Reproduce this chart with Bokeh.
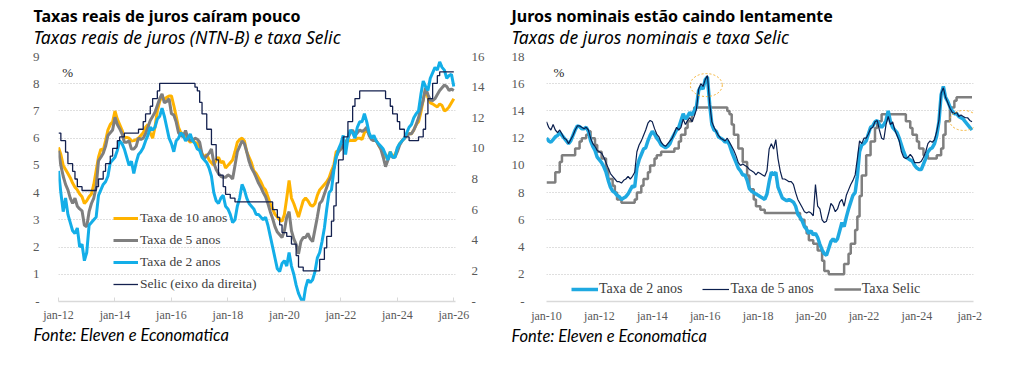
import pandas as pd
from bokeh.plotting import figure
from bokeh.models import Range1d, LinearAxis, FixedTicker, Label, Legend, LegendItem, Title
from bokeh.layouts import row
from bokeh.embed import file_html
from bokeh.resources import INLINE

# ---------------- DATA ----------------
# Left chart: real rates (NTN-B), monthly from Jan 2012 to Jan 2026, %
inicio_reais = "2012-01"
taxa_10_anos = [
    5.66, 5.4, 5.0, 4.85, 4.7, 4.55, 4.35, 4.2, 4.1, 3.95, 3.85, 3.6,
    3.7, 3.85, 3.95, 4.3, 4.8, 5.3, 5.6, 5.55, 5.9, 6.3, 6.5, 6.6,
    7.0, 6.7, 6.5, 6.3, 6.0, 6.03, 6.0, 5.9, 5.91, 5.95, 6.0, 6.1,
    6.2, 6.4, 6.5, 6.2, 6.0, 6.4, 7.0, 7.35, 7.55, 7.4, 7.5, 7.55,
    7.55, 7.2, 6.8, 6.4, 6.2, 6.16, 6.1, 5.95, 5.85, 5.91, 5.85, 5.8,
    5.6, 5.42, 5.3, 5.4, 5.2, 5.1, 5.0, 5.2, 5.3, 5.1, 5.15, 4.9,
    5.0, 5.1, 5.2, 5.5, 5.85, 5.95, 6.0, 5.9, 5.5, 5.3, 5.1, 4.8,
    4.7, 4.55, 4.4, 4.2, 4.1, 3.85, 3.6, 3.4, 3.2, 3.1, 3.0, 2.95,
    3.2, 3.8, 4.45, 3.8, 3.6, 3.35, 3.1, 3.4, 3.7, 3.8, 3.7, 3.55,
    3.5, 3.6, 3.9, 4.1, 4.2, 4.3, 4.4, 4.55, 4.8, 5.0, 5.5, 5.55,
    5.6, 5.7, 5.8, 5.9, 5.91, 5.91, 5.91, 6.0, 6.0, 5.95, 6.2, 6.3,
    6.15, 6.0, 5.91, 5.91, 5.75, 5.6, 5.45, 5.3, 5.3, 5.5, 5.3, 5.4,
    5.6, 5.8, 5.9, 6.0, 6.1, 6.16, 6.16, 6.3, 6.5, 6.6, 6.95, 7.4,
    7.8, 7.5, 7.3, 7.26, 7.2, 7.15, 7.26, 7.2, 7.0, 7.05, 7.15, 7.3,
    7.45,
]
taxa_5_anos = [
    5.54, 5.0, 4.6, 4.3, 4.1, 3.8, 3.6, 3.8, 3.5, 3.4, 3.33, 2.8,
    2.75, 3.3, 3.6, 3.8, 4.2, 5.17, 5.3, 5.45, 5.7, 6.1, 6.2, 6.3,
    6.77, 6.5, 6.35, 6.16, 5.85, 5.85, 5.9, 5.6, 5.6, 5.7, 6.0, 5.95,
    6.0, 6.16, 6.4, 6.65, 6.8, 6.95, 7.2, 7.45, 7.63, 7.3, 7.35, 7.45,
    6.9, 6.85, 6.6, 6.2, 6.1, 6.05, 6.28, 6.0, 5.91, 5.91, 6.0, 5.96,
    5.85, 5.42, 5.25, 5.35, 5.45, 5.6, 5.1, 4.85, 4.7, 4.6, 4.56, 4.56,
    4.65, 4.6, 4.5, 5.0, 5.5, 5.7, 5.9, 5.8, 5.5, 5.15, 4.9, 4.75,
    4.56, 4.35, 4.2, 4.0, 3.85, 3.6, 3.3, 3.05, 2.75, 2.55, 2.45, 2.35,
    2.6, 3.1, 3.3, 2.6, 2.3, 2.1, 1.75, 2.2, 2.35, 2.35, 2.5, 2.3,
    2.2, 2.65, 3.1, 3.6, 3.7, 3.95, 4.2, 4.44, 4.6, 4.9, 5.3, 5.5,
    5.6, 5.75, 5.85, 6.0, 6.2, 6.3, 6.1, 6.2, 6.3, 6.25, 6.3, 6.4,
    6.1, 5.95, 5.91, 5.91, 5.75, 5.6, 5.3, 4.95, 5.2, 5.4, 5.3, 5.3,
    5.5, 5.75, 5.9, 6.0, 6.1, 6.16, 6.16, 6.3, 6.5, 6.75, 7.1, 7.4,
    7.85, 7.6, 7.4, 7.38, 7.45, 7.6, 7.75, 7.85, 7.95, 7.9, 7.75, 7.8,
    7.75,
]
taxa_2_anos = [
    4.8, 4.0, 3.3, 3.8, 3.2, 2.9, 2.6, 2.5, 2.7, 2.0, 2.1, 1.5,
    1.8, 2.8, 2.9, 3.0, 3.1, 3.9, 4.1, 4.3, 4.4, 4.6, 5.1, 5.2,
    5.3, 5.55, 5.9, 5.8, 5.6, 5.3, 5.0, 5.15, 4.7, 5.1, 5.4, 5.5,
    5.65, 5.9, 6.1, 6.4, 6.3, 6.4, 6.7, 6.8, 7.1, 6.8, 6.4, 6.0,
    5.8, 5.5, 5.9, 6.0, 6.2, 6.1, 5.9, 6.0, 6.15, 5.9, 5.8, 5.6,
    5.55, 5.3, 5.2, 5.1, 4.9, 4.6, 4.0, 3.7, 3.6, 3.8, 3.9, 3.5,
    3.4, 3.2, 2.9, 3.0, 3.5, 3.8, 4.3, 4.1, 3.8, 3.6, 3.5, 3.4,
    3.2, 3.2, 3.1, 3.0, 3.1, 2.8, 2.4, 2.0, 1.6, 1.2, 1.1, 1.4,
    1.5, 1.3, 1.8, 1.3, 1.0, 0.6, 0.3, 0.1, -0.05, 0.5, 0.8, 0.7,
    0.8, 1.1, 1.6, 1.8, 2.2, 2.7, 3.4, 4.0, 4.1, 4.8, 5.3, 5.6,
    5.8, 6.1, 5.4, 6.0, 6.3, 6.2, 6.0, 6.4, 6.6, 6.6, 6.9, 6.6,
    6.2, 6.0, 6.1, 5.9, 5.8, 5.7, 5.6, 5.4, 5.2, 5.5, 5.3, 5.3,
    5.65, 5.8, 5.9, 6.0, 6.2, 6.4, 6.5, 6.75, 6.9, 7.0, 7.6, 8.1,
    7.9, 7.75, 8.2, 8.4, 8.6, 8.5, 8.8, 8.6, 8.5, 8.2, 8.3, 8.35,
    7.9,
]

# Selic target, monthly from Jan 2010 to Feb 2026, %
inicio_selic = "2010-01"
selic = [
    8.75, 8.75, 8.75, 8.75, 9.5, 9.5, 10.25, 10.75, 10.75, 10.75, 10.75, 10.75,
    10.75, 11.25, 11.25, 11.75, 12.0, 12.0, 12.25, 12.5, 12.0, 12.0, 11.5, 11.0,
    11.0, 10.5, 10.5, 9.75, 9.0, 9.0, 8.5, 8.0, 7.5, 7.5, 7.25, 7.25,
    7.25, 7.25, 7.25, 7.25, 7.5, 8.0, 8.0, 8.5, 9.0, 9.0, 9.5, 10.0,
    10.0, 10.5, 10.75, 10.75, 11.0, 11.0, 11.0, 11.0, 11.0, 11.0, 11.25, 11.25,
    11.75, 12.25, 12.25, 12.75, 13.25, 13.25, 13.75, 14.25, 14.25, 14.25, 14.25, 14.25,
    14.25, 14.25, 14.25, 14.25, 14.25, 14.25, 14.25, 14.25, 14.25, 14.25, 14.0, 13.75,
    13.0, 12.25, 12.25, 11.25, 11.25, 10.25, 10.25, 9.25, 8.25, 8.25, 7.5, 7.0,
    7.0, 6.75, 6.75, 6.5, 6.5, 6.5, 6.5, 6.5, 6.5, 6.5, 6.5, 6.5,
    6.5, 6.5, 6.5, 6.5, 6.5, 6.5, 6.5, 6.0, 6.0, 5.5, 5.0, 4.5,
    4.5, 4.25, 4.25, 3.75, 3.75, 3.0, 2.25, 2.25, 2.0, 2.0, 2.0, 2.0,
    2.0, 2.0, 2.0, 2.75, 2.75, 3.5, 4.25, 4.25, 5.25, 6.25, 7.75, 9.25,
    9.25, 10.75, 10.75, 11.75, 11.75, 12.75, 13.25, 13.25, 13.75, 13.75, 13.75, 13.75,
    13.75, 13.75, 13.75, 13.75, 13.75, 13.75, 13.75, 13.25, 13.25, 12.75, 12.25, 12.25,
    11.75, 11.25, 11.25, 10.75, 10.75, 10.5, 10.5, 10.5, 10.5, 10.75, 10.75, 11.25,
    12.25, 13.25, 13.25, 14.25, 14.25, 14.75, 15.0, 15.0, 15.0, 15.0, 15.0, 15.0,
    15.0, 15.0,
]

# Right chart: nominal rates, monthly from Jan 2010 to Feb 2026, %
inicio_nominais = "2010-01"
nominal_2_anos = [
    12.0, 11.8, 11.7, 11.9, 12.1, 12.2, 12.4, 12.2, 12.0, 11.8, 11.6, 11.8,
    12.2, 12.6, 12.9, 12.85, 12.7, 12.7, 12.8, 12.5, 11.8, 11.4, 11.1, 10.6,
    10.4, 10.2, 9.9, 9.5, 8.9, 8.4, 8.1, 8.0, 7.8, 7.7, 7.5, 7.6,
    7.7, 7.9, 8.2, 8.5, 8.4, 9.8, 10.4, 10.8, 11.2, 11.3, 11.8, 12.2,
    12.5, 12.3, 12.0, 11.8, 11.5, 11.4, 11.3, 11.4, 11.6, 12.0, 12.3, 12.6,
    12.8, 13.3, 13.8, 13.4, 13.6, 13.9, 13.7, 14.0, 14.3, 15.5, 15.8, 15.6,
    16.3, 16.5, 14.5, 13.0, 12.6, 12.5, 12.1, 12.0, 11.9, 11.7, 11.8, 11.5,
    11.0, 10.6, 10.2, 9.8, 9.6, 9.3, 9.3, 8.9, 8.3, 8.1, 8.0, 7.9,
    7.8, 7.7, 7.6, 7.5, 7.9, 8.8, 9.5, 9.3, 9.5, 8.4, 8.0, 7.6,
    7.5, 7.4, 7.5, 7.4, 7.3, 7.0, 6.4, 6.2, 5.9, 5.5, 5.3, 5.0,
    5.2, 4.9, 5.0, 4.7, 4.2, 3.8, 3.5, 3.4, 3.9, 4.4, 4.6, 4.4,
    4.6, 5.2, 5.8, 5.5, 6.2, 6.8, 7.3, 7.8, 8.0, 9.2, 11.0, 11.5,
    11.6, 11.8, 12.3, 12.8, 12.9, 13.2, 13.3, 13.0, 12.8, 13.0, 13.3, 14.0,
    13.2, 12.8, 12.6, 12.4, 12.0, 11.5, 11.0, 10.6, 10.5, 10.4, 10.3, 10.0,
    9.8, 9.7, 9.7, 10.1, 10.5, 11.0, 11.2, 11.3, 11.6, 12.2, 13.2, 15.2,
    15.8, 15.0, 14.7, 14.3, 14.0, 13.8, 13.8, 13.6, 13.5, 13.4, 13.2, 13.0,
    12.8, 12.6,
]
nominal_5_anos = [
    13.2, 12.8, 12.6, 13.0, 12.6, 12.4, 12.6, 12.3, 12.0, 11.9, 11.6, 11.9,
    12.2, 12.6, 12.9, 12.9, 12.8, 12.7, 12.8, 12.6, 12.0, 11.6, 11.4, 11.1,
    11.0, 10.9, 10.6, 10.2, 9.8, 9.4, 9.2, 9.0, 8.8, 8.8, 8.7, 8.9,
    9.0, 9.2, 9.0, 9.2, 9.5, 11.0, 11.5, 11.8, 12.2, 12.6, 13.1, 13.3,
    13.2, 12.7, 12.3, 12.1, 11.7, 11.5, 11.4, 11.6, 11.8, 12.0, 12.4, 12.8,
    12.6, 12.8, 13.4, 13.0, 13.3, 13.5, 13.2, 13.6, 14.1, 15.6, 16.0, 15.8,
    16.3, 16.6, 14.6, 13.2, 12.8, 12.5, 12.2, 12.0, 11.9, 11.8, 12.0, 11.7,
    11.4, 11.1, 10.7, 10.2, 10.0, 10.1, 10.0, 9.9, 9.7, 9.6, 9.5, 9.3,
    9.5, 9.4, 9.3, 9.2, 9.6, 11.2, 11.6, 11.2, 11.9, 10.5, 9.6, 9.0,
    9.0, 8.9, 8.8, 8.8, 8.6, 8.0, 7.5, 7.2, 6.9, 6.6, 6.5, 6.6,
    6.5, 6.3, 8.6, 7.0, 6.8, 6.0, 5.8, 5.9, 6.5, 7.2, 7.0, 6.6,
    6.8, 7.3, 7.5, 7.0, 7.8, 8.2, 8.6, 8.9, 9.3, 10.5, 11.8, 11.6,
    12.0, 12.0, 12.3, 12.7, 12.8, 13.2, 13.3, 12.6, 12.0, 11.9, 13.0, 13.6,
    13.0, 13.2, 12.6, 12.2, 11.8, 11.0, 10.6, 10.5, 10.6, 10.8, 10.6, 10.2,
    10.2, 10.2, 10.3, 10.6, 11.0, 11.6, 11.8, 11.7, 11.9, 12.5, 13.3, 15.3,
    15.7, 15.0, 14.6, 14.2, 13.9, 13.8, 13.9, 13.6, 13.7, 13.6, 13.5, 13.5,
    13.3, 13.2,
]

# Highlighted zones (dotted ellipses) on the right chart
destaque_anos = [2016.04, 2025.77]
destaque_valores = [15.9, 13.3]

# Tick labels
anos_ticks_esq = [2012, 2014, 2016, 2018, 2020, 2022, 2024, 2026]
rotulos_esq = ["jan-12", "jan-14", "jan-16", "jan-18", "jan-20", "jan-22", "jan-24", "jan-26"]
anos_ticks_dir = [2010, 2012, 2014, 2016, 2018, 2020, 2022, 2024, 2026]
rotulos_dir = ["jan-10", "jan-12", "jan-14", "jan-16", "jan-18", "jan-20", "jan-22", "jan-24", "jan-2"]


def anos_decimais(inicio, n):
    d = pd.date_range(inicio, periods=n, freq="MS")
    return list(d.year + (d.month - 1) / 12.0)


x_reais = anos_decimais(inicio_reais, len(taxa_2_anos))
x_selic = anos_decimais(inicio_selic, len(selic))
x_nom = anos_decimais(inicio_nominais, len(nominal_2_anos))

x_selic_esq = [x for x in x_selic if 2012 <= x <= 2026.01]
selic_esq = [s for x, s in zip(x_selic, selic) if 2012 <= x <= 2026.01]

SERIF = "Liberation Serif"
SANS = "Noto Sans"
TICK_COLOR = "#595959"
GRID_COLOR = "#bfbfbf"
ALTURA = 362
TOPO = 56
BASE = 61


def estilo_comum(p):
    p.outline_line_color = None
    p.xgrid.visible = False
    p.ygrid.grid_line_color = GRID_COLOR
    p.ygrid.grid_line_dash = "1 2"
    p.ygrid.grid_line_width = 1
    for ax in p.yaxis:
        ax.axis_line_color = None
        ax.major_tick_line_color = None
        ax.minor_tick_line_color = None
        ax.major_label_text_font = SERIF
        ax.major_label_text_font_size = "13px"
        ax.major_label_text_color = TICK_COLOR
    xa = p.xaxis[0]
    xa.axis_line_color = "#d9d9d9"
    xa.axis_line_width = 1.5
    xa.minor_tick_line_color = None
    xa.major_label_text_font = SERIF
    xa.major_label_text_font_size = "12px"
    xa.major_label_text_color = TICK_COLOR


def titulos(p, dx, titulo, subtitulo, fonte):
    # first added "above" is nearest to the frame
    p.add_layout(Title(text=subtitulo, text_font=SANS, text_font_size="17.5px",
                       text_font_style="italic", text_color="#000000",
                       align="left", offset=dx, standoff=15), "above")
    p.add_layout(Title(text=titulo, text_font=SANS, text_font_size="16px",
                       text_font_style="bold", text_color="#000000",
                       align="left", offset=dx, standoff=-22), "above")
    p.add_layout(Title(text=fonte, text_font="Lato", text_font_size="16.5px",
                       text_font_style="italic", text_color="#000000",
                       align="left", offset=dx, standoff=-3), "below")


def simbolo_pct(p, x, y):
    p.add_layout(Label(x=x, y=y, x_units="screen", y_units="screen", text="%",
                       text_font=SERIF, text_font_size="13px", text_color="#262626",
                       text_baseline="alphabetic"))


# ---------------- LEFT CHART ----------------
pl = figure(width=504, height=ALTURA, x_range=Range1d(2012, 2026.06), y_range=Range1d(0, 9),
            output_backend="svg", toolbar_location=None, title=None,
            min_border_left=58, min_border_right=49, min_border_top=TOPO,
            min_border_bottom=BASE)
pl.extra_y_ranges = {"selic": Range1d(0, 16)}

r10 = pl.line(x_reais, taxa_10_anos, line_color="#ffb300", line_width=3)
r5 = pl.line(x_reais, taxa_5_anos, line_color="#7f7f7f", line_width=3)
r2 = pl.line(x_reais, taxa_2_anos, line_color="#13aee8", line_width=3)
rs = pl.step(x_selic_esq, selic_esq, mode="after", y_range_name="selic",
             line_color="#14214f", line_width=1.3)

ax_dir = LinearAxis(y_range_name="selic")
pl.add_layout(ax_dir, "right")

pl.xaxis.ticker = FixedTicker(ticks=anos_ticks_esq)
pl.xaxis.major_label_overrides = dict(zip(anos_ticks_esq, rotulos_esq))
pl.yaxis[0].ticker = FixedTicker(ticks=list(range(0, 10)))
pl.yaxis[0].major_label_overrides = {0: "-"}
ax_dir.ticker = FixedTicker(ticks=list(range(0, 17, 2)))
ax_dir.major_label_overrides = {0: "-"}
estilo_comum(pl)
pl.yaxis[0].major_label_standoff = 13
ax_dir.major_label_standoff = 10
pl.xaxis.major_tick_line_color = "#d9d9d9"
pl.xaxis.major_tick_in = 4
pl.xaxis.major_tick_out = 0
pl.xaxis.major_label_standoff = 6

leg_l = Legend(items=[LegendItem(label="Taxa de 10 anos", renderers=[r10]),
                      LegendItem(label="Taxa de 5 anos", renderers=[r5]),
                      LegendItem(label="Taxa de 2 anos", renderers=[r2]),
                      LegendItem(label="Selic (eixo da direita)", renderers=[rs])],
               location=(55, 6.7), orientation="vertical",
               border_line_color=None, background_fill_alpha=0,
               padding=0, margin=0, spacing=2, glyph_width=25, glyph_height=20,
               label_height=20, label_standoff=2,
               label_text_font=SERIF, label_text_font_size="13.5px", label_text_color="#404040")
pl.add_layout(leg_l)
simbolo_pct(pl, 3.7, 228.7)
titulos(pl, -25, "Taxas reais de juros caíram pouco",
        "Taxas reais de juros (NTN-B) e taxa Selic", "Fonte: Eleven e Economatica")

# ---------------- RIGHT CHART ----------------
pr = figure(width=500, height=ALTURA, x_range=Range1d(2010, 2026.14), y_range=Range1d(0, 18),
            output_backend="svg", toolbar_location=None, title=None,
            min_border_left=42, min_border_right=31, min_border_top=TOPO,
            min_border_bottom=BASE)

rsel = pr.step(x_selic, selic, mode="after", line_color="#7f7f7f", line_width=2.5)
rn2 = pr.line(x_nom, nominal_2_anos, line_color="#1fa9e1", line_width=3.5)
rn5 = pr.line(x_nom, nominal_5_anos, line_color="#0b1f4e", line_width=1.2)

pr.ellipse(x=destaque_anos, y=destaque_valores, width=[32, 28], height=[23, 20],
           width_units="screen", height_units="screen", fill_color=None,
           line_color="#f5b335", line_dash="2 2", line_width=1)

pr.xaxis.ticker = FixedTicker(ticks=anos_ticks_dir)
pr.xaxis.major_label_overrides = dict(zip(anos_ticks_dir, rotulos_dir))
pr.yaxis.ticker = FixedTicker(ticks=list(range(0, 19, 2)))
pr.yaxis.major_label_overrides = {0: "-"}
estilo_comum(pr)
pr.yaxis.major_label_standoff = 16
pr.xaxis.major_tick_line_color = None
pr.xaxis.major_tick_in = 0
pr.xaxis.major_tick_out = 0
pr.xaxis.major_label_standoff = 7

leg_r = Legend(items=[LegendItem(label="Taxa de 2 anos", renderers=[rn2]),
                      LegendItem(label="Taxa de 5 anos", renderers=[rn5]),
                      LegendItem(label="Taxa Selic", renderers=[rsel])],
               location=(25, 2), orientation="horizontal",
               border_line_color=None, background_fill_alpha=0,
               padding=0, margin=0, spacing=20, glyph_width=27, glyph_height=20,
               label_height=20, label_standoff=1,
               label_text_font=SERIF, label_text_font_size="14px", label_text_color="#404040")
pr.add_layout(leg_r)
simbolo_pct(pr, 7, 229)
titulos(pr, -35, "Juros nominais estão caindo lentamente",
        "Taxas de juros nominais e taxa Selic", "Fonte: Eleven e Economatica")

layout = row(pl, pr)
open("out.html", "w").write(file_html(layout, INLINE))
